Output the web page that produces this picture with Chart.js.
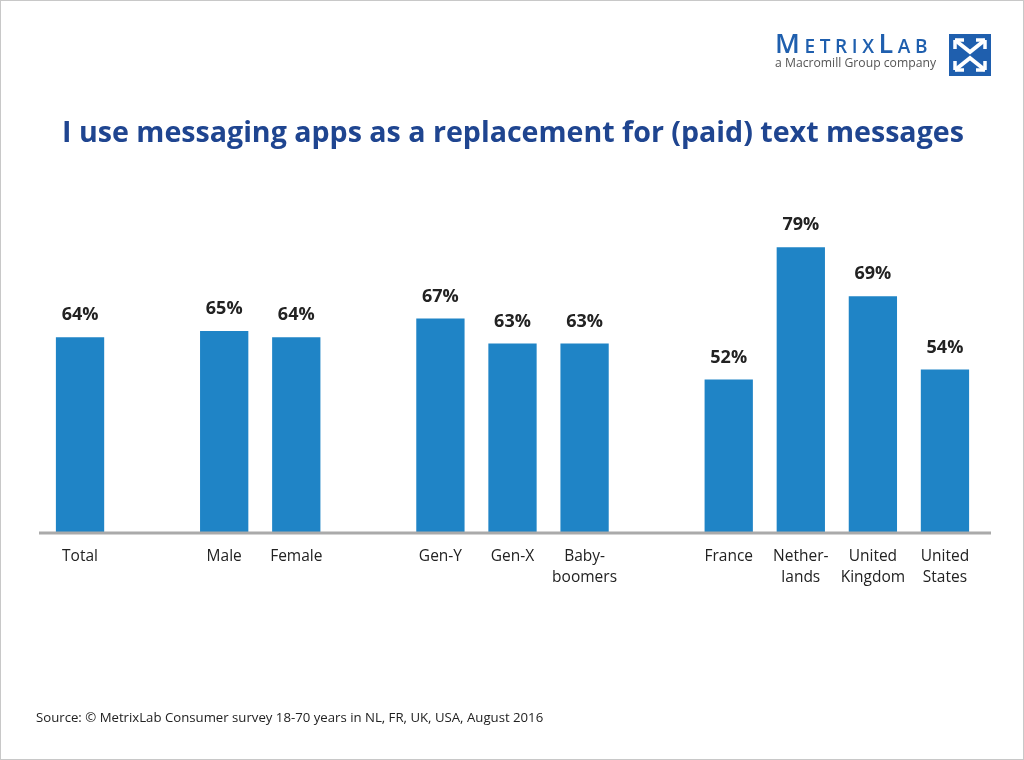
<!DOCTYPE html>
<html>
<head>
<meta charset="utf-8">
<script src="https://cdn.jsdelivr.net/npm/chart.js@4"></script>
<style>
  html, body { margin: 0; padding: 0; background: #fff; }
  #page { position: relative; width: 1022px; height: 758px; border: 1px solid #c8c8c8; overflow: hidden; font-family: "Open Sans", "DejaVu Sans", sans-serif; }
  #chart_div { position: absolute; left: 0; top: 0; width: 1022px; height: 758px; }
  #title { position: absolute; left: 0; width: 1024px; top: 110px; text-align: center; color: #1f4590; font-weight: bold; font-size: 28.6px; }
  #source { position: absolute; left: 35px; top: 707px; font-size: 13.2px; color: #222; }
  #logo { position: absolute; left: 774px; top: 28px; color: #1f5fae; }
  #logo .name { font-size: 27px; font-variant: small-caps; letter-spacing: 4.6px; line-height: 27px; font-weight: 600; }
  #logo .sub { font-size: 12.2px; color: #555; line-height: 14px; }
  #icon { position: absolute; left: 948px; top: 33px; }
</style>
</head>
<body>
<div id="page">
  <div id="chart_div"><canvas id="myChart" width="1022" height="758"></canvas></div>
  <div id="title">I use messaging apps as a replacement for (paid) text messages</div>
  <div id="logo"><div class="name">MetrixLab</div><div class="sub">a Macromill Group company</div></div>
  <svg id="icon" width="42" height="42" viewBox="0 0 42 42">
    <rect x="0" y="0" width="42" height="42" fill="#1f5fae"/>
    <path d="M6 6 L21 18 L36 6 M6 36 L21 24 L36 36" stroke="#fff" stroke-width="4" fill="none"/>
    <path d="M6 6 L6 15 M6 6 L15 6 M36 6 L27 6 M36 6 L36 15 M6 36 L6 27 M6 36 L15 36 M36 36 L27 36 M36 36 L36 27" stroke="#fff" stroke-width="3.5" fill="none"/>
  </svg>
  <div id="source">Source: © MetrixLab Consumer survey 18-70 years in NL, FR, UK, USA, August 2016</div>
</div>
<script>
// categories (blank entries are group gaps)
const categories = [
  "Total", "",
  "Male", "Female", "",
  "Gen-Y", "Gen-X", ["Baby-", "boomers"], "",
  "France", ["Nether-", "lands"], ["United", "Kingdom"], ["United", "States"]
];
// demographic groups and countries were plotted on different scales in the original
const values_demo    = [64, null, 65, 64, null, 67, 63, 63, null, null, null, null, null];
const values_country = [null, null, null, null, null, null, null, null, null, 52, 79, 69, 54];
const demo_min = 32.8, demo_max = 90.5;
const country_min = 20.8, country_max = 94.4;

const value_labels = {
  id: "value_labels",
  afterDatasetsDraw(chart) {
    const ctx = chart.ctx;
    ctx.save();
    ctx.font = "bold 18px 'Open Sans', 'DejaVu Sans', sans-serif";
    ctx.fillStyle = "#222";
    ctx.textAlign = "center";
    ctx.textBaseline = "middle";
    chart.data.datasets.forEach((ds, d) => {
      chart.getDatasetMeta(d).data.forEach((bar, i) => {
        if (ds.data[i] == null) return;
        ctx.fillText(ds.data[i] + "%", bar.x, bar.y - 22);
      });
    });
    ctx.restore();
  }
};

const baseline = {
  id: "baseline",
  afterDatasetsDraw(chart) {
    const ctx = chart.ctx;
    const a = chart.chartArea;
    ctx.save();
    ctx.strokeStyle = "#aaaaaa";
    ctx.lineWidth = 3;
    ctx.beginPath();
    ctx.moveTo(a.left - 5, a.bottom + 1);
    ctx.lineTo(a.right + 10, a.bottom + 1);
    ctx.stroke();
    ctx.restore();
  }
};

const ctx = document.getElementById("myChart");
new Chart(ctx, {
  type: "bar",
  data: {
    labels: categories,
    datasets: [
      { data: values_demo, yAxisID: "y", backgroundColor: "#1f84c6", grouped: false,
        categoryPercentage: 1, barPercentage: 0.67 },
      { data: values_country, yAxisID: "y2", backgroundColor: "#1f84c6", grouped: false,
        categoryPercentage: 1, barPercentage: 0.67 }
    ]
  },
  options: {
    responsive: false,
    animation: false,
    layout: { padding: { left: 43, right: 42, top: 171, bottom: 157 } },
    plugins: { legend: { display: false }, tooltip: { enabled: false } },
    scales: {
      x: {
        grid: { display: false, drawTicks: false },
        border: { display: false },
        ticks: {
          color: "#222",
          font: { size: 15.5, family: "'Open Sans', 'DejaVu Sans', sans-serif", lineHeight: 1.3 },
          padding: 15,
          maxRotation: 0,
          autoSkip: false
        },
        afterFit(scale) { scale.height = 70; }
      },
      y: { display: false, min: demo_min, max: demo_max },
      y2: { display: false, min: country_min, max: country_max }
    }
  },
  plugins: [value_labels, baseline]
});
</script>
</body>
</html>
